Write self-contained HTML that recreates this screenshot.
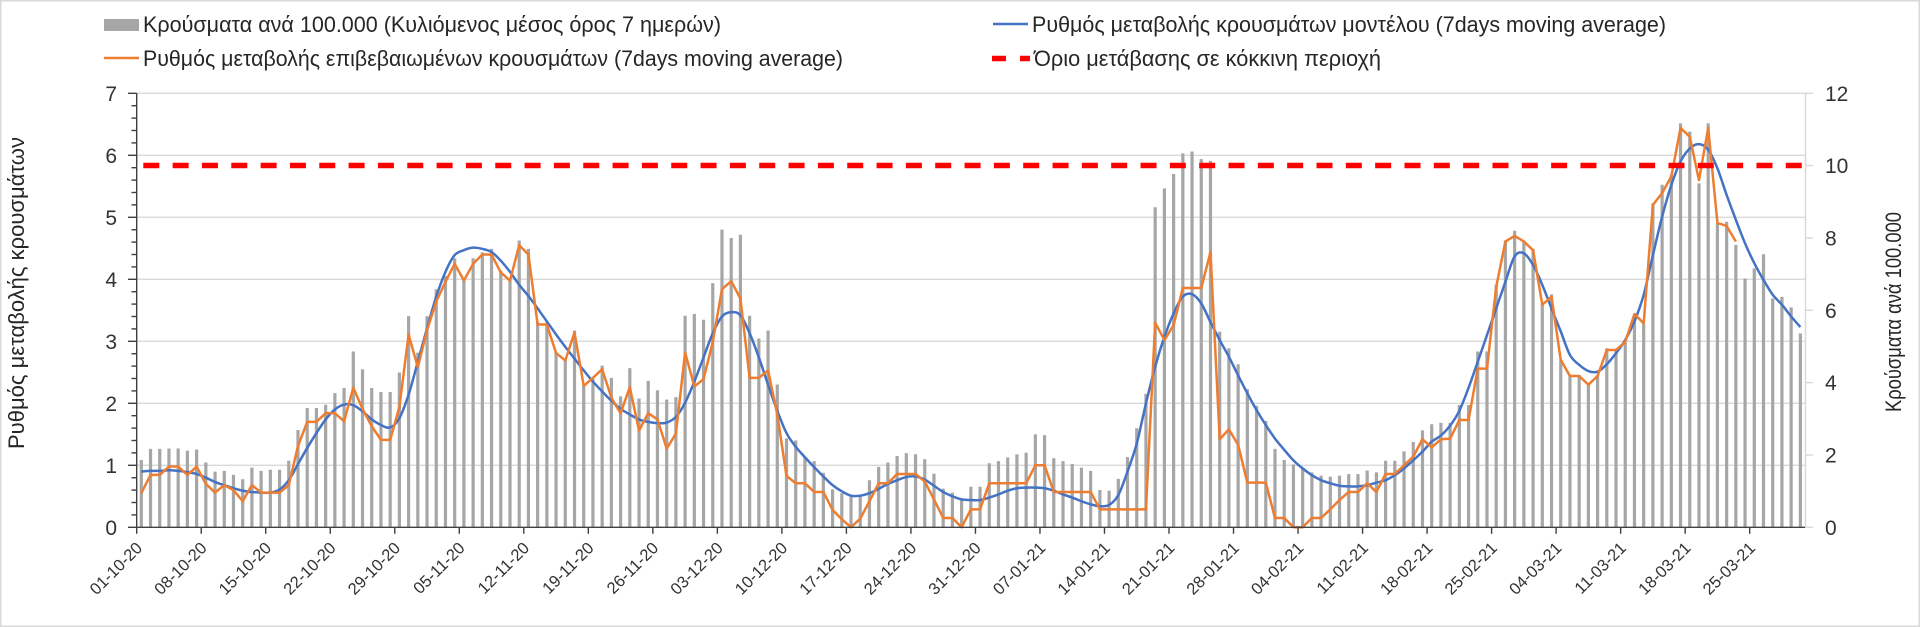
<!DOCTYPE html>
<html>
<head>
<meta charset="utf-8">
<style>
html,body{margin:0;padding:0;background:#fff;}
svg{display:block;}
text{font-family:"Liberation Sans","Noto Sans CJK SC",sans-serif;}
</style>
</head>
<body>
<svg id="c" width="1920" height="627" viewBox="0 0 1920 627" xmlns="http://www.w3.org/2000/svg">
<rect x="0" y="0" width="1920" height="627" fill="#fff"/>
<rect x="0.75" y="0.75" width="1918.5" height="625.5" fill="none" stroke="#d9d9d9" stroke-width="1.5"/>

<!-- gridlines -->
<g stroke="#d9d9d9" stroke-width="1.3">
<line x1="137" y1="465.3" x2="1805" y2="465.3"/>
<line x1="137" y1="403.3" x2="1805" y2="403.3"/>
<line x1="137" y1="341.3" x2="1805" y2="341.3"/>
<line x1="137" y1="279.3" x2="1805" y2="279.3"/>
<line x1="137" y1="217.3" x2="1805" y2="217.3"/>
<line x1="137" y1="155.3" x2="1805" y2="155.3"/>
<line x1="137" y1="93.3" x2="1805" y2="93.3"/>
</g>

<g id="data"></g>

<!-- right axis -->
<g stroke="#d9d9d9" stroke-width="1.5">
<line x1="1805.5" y1="93.3" x2="1805.5" y2="527.3"/>
<line x1="1805" y1="527.3" x2="1813" y2="527.3"/>
<line x1="1805" y1="455" x2="1813" y2="455"/>
<line x1="1805" y1="382.6" x2="1813" y2="382.6"/>
<line x1="1805" y1="310.3" x2="1813" y2="310.3"/>
<line x1="1805" y1="238" x2="1813" y2="238"/>
<line x1="1805" y1="165.6" x2="1813" y2="165.6"/>
<line x1="1805" y1="93.3" x2="1813" y2="93.3"/>
</g>

<!-- left axis & bottom axis -->
<g id="axes" stroke="#404040" stroke-width="1.4">
<line x1="136.7" y1="93.3" x2="136.7" y2="527.3"/>
<line x1="136" y1="527.3" x2="1805" y2="527.3"/>
</g>

<!-- left tick labels -->
<g font-size="21" fill="#333" text-anchor="end">
<text x="117" y="534.8">0</text>
<text x="117" y="472.8">1</text>
<text x="117" y="410.8">2</text>
<text x="117" y="348.8">3</text>
<text x="117" y="286.8">4</text>
<text x="117" y="224.8">5</text>
<text x="117" y="162.8">6</text>
<text x="117" y="100.8">7</text>
</g>

<!-- right tick labels -->
<g font-size="21" fill="#333">
<text x="1825" y="534.8">0</text>
<text x="1825" y="462.5">2</text>
<text x="1825" y="390.1">4</text>
<text x="1825" y="317.8">6</text>
<text x="1825" y="245.5">8</text>
<text x="1825" y="173.1">10</text>
<text x="1825" y="100.8">12</text>
</g>

<!-- x labels -->
<g font-size="16.5" fill="#333" text-anchor="end">
<text transform="translate(143.2,549) rotate(-45)">01-10-20</text>
<text transform="translate(207.7,549) rotate(-45)">08-10-20</text>
<text transform="translate(272.2,549) rotate(-45)">15-10-20</text>
<text transform="translate(336.8,549) rotate(-45)">22-10-20</text>
<text transform="translate(401.3,549) rotate(-45)">29-10-20</text>
<text transform="translate(465.8,549) rotate(-45)">05-11-20</text>
<text transform="translate(530.3,549) rotate(-45)">12-11-20</text>
<text transform="translate(594.8,549) rotate(-45)">19-11-20</text>
<text transform="translate(659.4,549) rotate(-45)">26-11-20</text>
<text transform="translate(723.9,549) rotate(-45)">03-12-20</text>
<text transform="translate(788.4,549) rotate(-45)">10-12-20</text>
<text transform="translate(852.9,549) rotate(-45)">17-12-20</text>
<text transform="translate(917.4,549) rotate(-45)">24-12-20</text>
<text transform="translate(981.9,549) rotate(-45)">31-12-20</text>
<text transform="translate(1046.5,549) rotate(-45)">07-01-21</text>
<text transform="translate(1111.0,549) rotate(-45)">14-01-21</text>
<text transform="translate(1175.5,549) rotate(-45)">21-01-21</text>
<text transform="translate(1240.0,549) rotate(-45)">28-01-21</text>
<text transform="translate(1304.5,549) rotate(-45)">04-02-21</text>
<text transform="translate(1369.1,549) rotate(-45)">11-02-21</text>
<text transform="translate(1433.6,549) rotate(-45)">18-02-21</text>
<text transform="translate(1498.1,549) rotate(-45)">25-02-21</text>
<text transform="translate(1562.6,549) rotate(-45)">04-03-21</text>
<text transform="translate(1627.1,549) rotate(-45)">11-03-21</text>
<text transform="translate(1691.7,549) rotate(-45)">18-03-21</text>
<text transform="translate(1756.2,549) rotate(-45)">25-03-21</text>
</g>

<!-- axis titles -->
<text transform="translate(24,293) rotate(-90)" font-size="22" fill="#262626" text-anchor="middle" textLength="312" lengthAdjust="spacingAndGlyphs">Ρυθμός μεταβολής κρουσμάτων</text>
<text transform="translate(1901,312) rotate(-90)" font-size="22" fill="#262626" text-anchor="middle" textLength="200" lengthAdjust="spacingAndGlyphs">Κρούσματα ανά 100.000</text>

<!-- legend -->
<rect x="104" y="19" width="35" height="12" fill="#a6a6a6"/>
<text x="143" y="32" font-size="22" fill="#262626" textLength="578" lengthAdjust="spacingAndGlyphs">Κρούσματα ανά 100.000 (Κυλιόμενος μέσος όρος 7 ημερών)</text>
<line x1="104" y1="58" x2="139" y2="58" stroke="#ed7d31" stroke-width="2.5"/>
<text x="143" y="66" font-size="22" fill="#262626" textLength="700" lengthAdjust="spacingAndGlyphs">Ρυθμός μεταβολής επιβεβαιωμένων κρουσμάτων (7days moving average)</text>
<line x1="993" y1="24" x2="1028" y2="24" stroke="#4472c4" stroke-width="2.5"/>
<text x="1032" y="32" font-size="22" fill="#262626" textLength="634" lengthAdjust="spacingAndGlyphs">Ρυθμός μεταβολής κρουσμάτων μοντέλου (7days moving average)</text>
<path d="M992 58.5H1030" stroke="#ff0000" stroke-width="5.5" stroke-dasharray="14 14"/>
<text x="1034" y="66" font-size="22" fill="#262626" textLength="347" lengthAdjust="spacingAndGlyphs">Όριο μετάβασης σε κόκκινη περιοχή</text>
</svg>

<script>
(function(){
var NS="http://www.w3.org/2000/svg";
var X0=136.7, CW=9.217, Y0=527.3, LV=62, RV=434/12;
var bars=[1.86,2.17,2.17,2.18,2.18,2.12,2.15,1.79,1.54,1.56,1.45,1.33,1.65,1.56,1.59,1.59,1.84,2.69,3.30,3.30,
3.39,3.71,3.85,4.86,4.37,3.85,3.74,3.74,4.28,5.84,4.83,5.84,6.58,6.95,7.44,6.86,7.44,7.60,7.70,7.10,
6.87,7.93,7.70,5.67,5.67,4.84,4.63,5.44,3.92,4.10,4.47,4.13,3.62,4.40,3.56,4.05,3.79,3.53,3.60,5.85,
5.90,5.74,6.75,8.23,8.00,8.09,5.85,5.22,5.44,3.95,2.46,2.40,1.94,1.83,1.51,1.05,0.94,0.85,0.87,1.30,
1.67,1.79,1.97,2.05,2.02,1.88,1.48,1.07,0.96,0.76,1.12,1.12,1.77,1.83,1.93,2.02,2.06,2.57,2.55,1.91,
1.83,1.75,1.65,1.56,1.03,1.01,1.34,1.94,2.74,3.69,8.85,9.37,9.77,10.34,10.39,10.18,10.13,5.41,4.95,4.51,
3.82,3.36,2.94,2.17,1.86,1.74,1.63,1.52,1.43,1.40,1.43,1.47,1.47,1.57,1.52,1.84,1.84,2.10,2.36,2.68,
2.85,2.89,2.89,3.38,3.38,4.86,4.86,6.70,7.93,8.20,7.93,7.70,6.17,6.44,4.61,4.21,4.21,3.95,4.21,4.95,
4.90,5.11,5.87,5.64,8.96,9.47,9.74,11.17,10.94,9.51,11.17,8.41,8.45,7.81,6.88,7.16,7.55,6.33,6.37,6.08,5.36];
var orange=[0.55,0.845,0.845,0.98,0.98,0.845,0.98,0.70,0.56,0.68,0.60,0.42,0.68,0.56,0.56,0.56,0.68,1.31,1.70,1.70,
1.84,1.84,1.71,2.25,1.91,1.63,1.41,1.41,1.94,3.11,2.58,3.18,3.64,3.96,4.25,3.98,4.25,4.40,4.40,4.11,
3.98,4.55,4.40,3.27,3.27,2.81,2.69,3.14,2.28,2.41,2.55,2.09,1.84,2.26,1.56,1.84,1.74,1.27,1.51,2.82,
2.27,2.39,2.99,3.84,3.97,3.69,2.41,2.41,2.53,1.82,0.83,0.71,0.71,0.57,0.57,0.28,0.13,0.0,0.14,0.42,
0.71,0.71,0.86,0.86,0.86,0.74,0.45,0.15,0.15,0.0,0.29,0.29,0.71,0.71,0.71,0.71,0.71,1.00,1.00,0.57,
0.57,0.57,0.57,0.57,0.29,0.29,0.29,0.29,0.29,0.29,3.30,3.02,3.26,3.86,3.86,3.86,4.44,1.42,1.58,1.33,
0.72,0.72,0.72,0.15,0.15,0.0,0.0,0.15,0.15,0.29,0.44,0.57,0.57,0.71,0.57,0.86,0.86,1.00,1.14,1.42,
1.29,1.42,1.43,1.73,1.73,2.56,2.56,3.88,4.61,4.70,4.61,4.47,3.59,3.72,2.70,2.44,2.44,2.30,2.44,2.86,
2.86,2.99,3.44,3.29,5.20,5.39,5.66,6.44,6.30,5.60,6.44,4.91,4.86,4.61];
var blue=[0.90,0.91,0.91,0.92,0.91,0.89,0.86,0.80,0.73,0.68,0.63,0.59,0.57,0.56,0.56,0.61,0.76,1.02,1.28,1.52,
1.74,1.90,1.98,1.97,1.87,1.74,1.65,1.61,1.76,2.14,2.67,3.21,3.72,4.12,4.39,4.47,4.51,4.49,4.44,4.30,
4.12,3.91,3.73,3.53,3.32,3.11,2.91,2.72,2.53,2.35,2.19,2.04,1.91,1.82,1.74,1.70,1.68,1.69,1.78,2.01,
2.35,2.74,3.13,3.40,3.47,3.42,3.13,2.74,2.30,1.88,1.52,1.30,1.13,0.97,0.82,0.68,0.58,0.51,0.51,0.55,
0.62,0.70,0.76,0.81,0.82,0.77,0.67,0.57,0.50,0.45,0.44,0.44,0.48,0.53,0.59,0.63,0.64,0.64,0.63,0.59,
0.53,0.48,0.42,0.37,0.34,0.36,0.52,0.90,1.35,2.00,2.59,3.07,3.45,3.72,3.76,3.61,3.31,3.02,2.75,2.45,
2.16,1.89,1.65,1.43,1.25,1.08,0.95,0.84,0.76,0.71,0.67,0.66,0.66,0.68,0.72,0.76,0.84,0.95,1.08,1.22,
1.38,1.48,1.64,1.88,2.25,2.67,3.10,3.53,3.96,4.37,4.42,4.23,3.91,3.53,3.16,2.78,2.62,2.52,2.51,2.63,
2.81,3.02,3.32,3.75,4.39,5.01,5.52,5.90,6.11,6.18,6.09,5.79,5.36,4.96,4.58,4.26,3.99,3.75,3.59,3.40,3.23];
function cx(i){return X0+(i+0.5)*CW;}
function el(tag,attrs){var e=document.createElementNS(NS,tag);for(var k in attrs)e.setAttribute(k,attrs[k]);return e;}
var g=document.getElementById("data");
// bars
var d="";
for(var i=0;i<bars.length;i++){var x=cx(i)-1.6,y=Y0-bars[i]*RV;d+="M"+x.toFixed(2)+" "+Y0+"V"+y.toFixed(2)+"h3.2V"+Y0+"z";}
g.appendChild(el("path",{d:d,fill:"#a6a6a6"}));
// blue smooth
var p=[];for(i=0;i<blue.length;i++)p.push([cx(i),Y0-blue[i]*LV]);
var s="M"+p[0][0].toFixed(2)+","+p[0][1].toFixed(2);
for(i=0;i<p.length-1;i++){var p0=p[i-1]||p[i],p1=p[i],p2=p[i+1],p3=p[i+2]||p[i+1];
var c1x=p1[0]+(p2[0]-p0[0])/6,c1y=p1[1]+(p2[1]-p0[1])/6,c2x=p2[0]-(p3[0]-p1[0])/6,c2y=p2[1]-(p3[1]-p1[1])/6;
s+="C"+c1x.toFixed(2)+","+c1y.toFixed(2)+" "+c2x.toFixed(2)+","+c2y.toFixed(2)+" "+p2[0].toFixed(2)+","+p2[1].toFixed(2);}
g.appendChild(el("path",{d:s,fill:"none",stroke:"#4472c4","stroke-width":"2.5","stroke-linejoin":"round"}));
// orange polyline
var o="";for(i=0;i<orange.length;i++){o+=(i?"L":"M")+cx(i).toFixed(2)+","+(Y0-orange[i]*LV).toFixed(2);}
g.appendChild(el("path",{d:o,fill:"none",stroke:"#ed7d31","stroke-width":"2.5","stroke-linejoin":"round"}));
// red dashed threshold
g.appendChild(el("path",{d:"M143.3 165.5H1805",stroke:"#ff0000","stroke-width":"5.5","stroke-dasharray":"16 13.33",fill:"none"}));
// axis ticks
var ax=document.getElementById("axes");
for(var v=0;v<=35;v++){var yy=Y0-v*LV/5;var major=(v%5===0);
ax.appendChild(el("line",{x1:major?128:131.5,y1:yy.toFixed(2),x2:136.7,y2:yy.toFixed(2)}));}
for(var k=0;k<=25;k++){var xx=X0+k*7*CW;ax.appendChild(el("line",{x1:xx.toFixed(2),y1:Y0,x2:xx.toFixed(2),y2:Y0+6.5}));}
})();
</script>
</body>
</html>
